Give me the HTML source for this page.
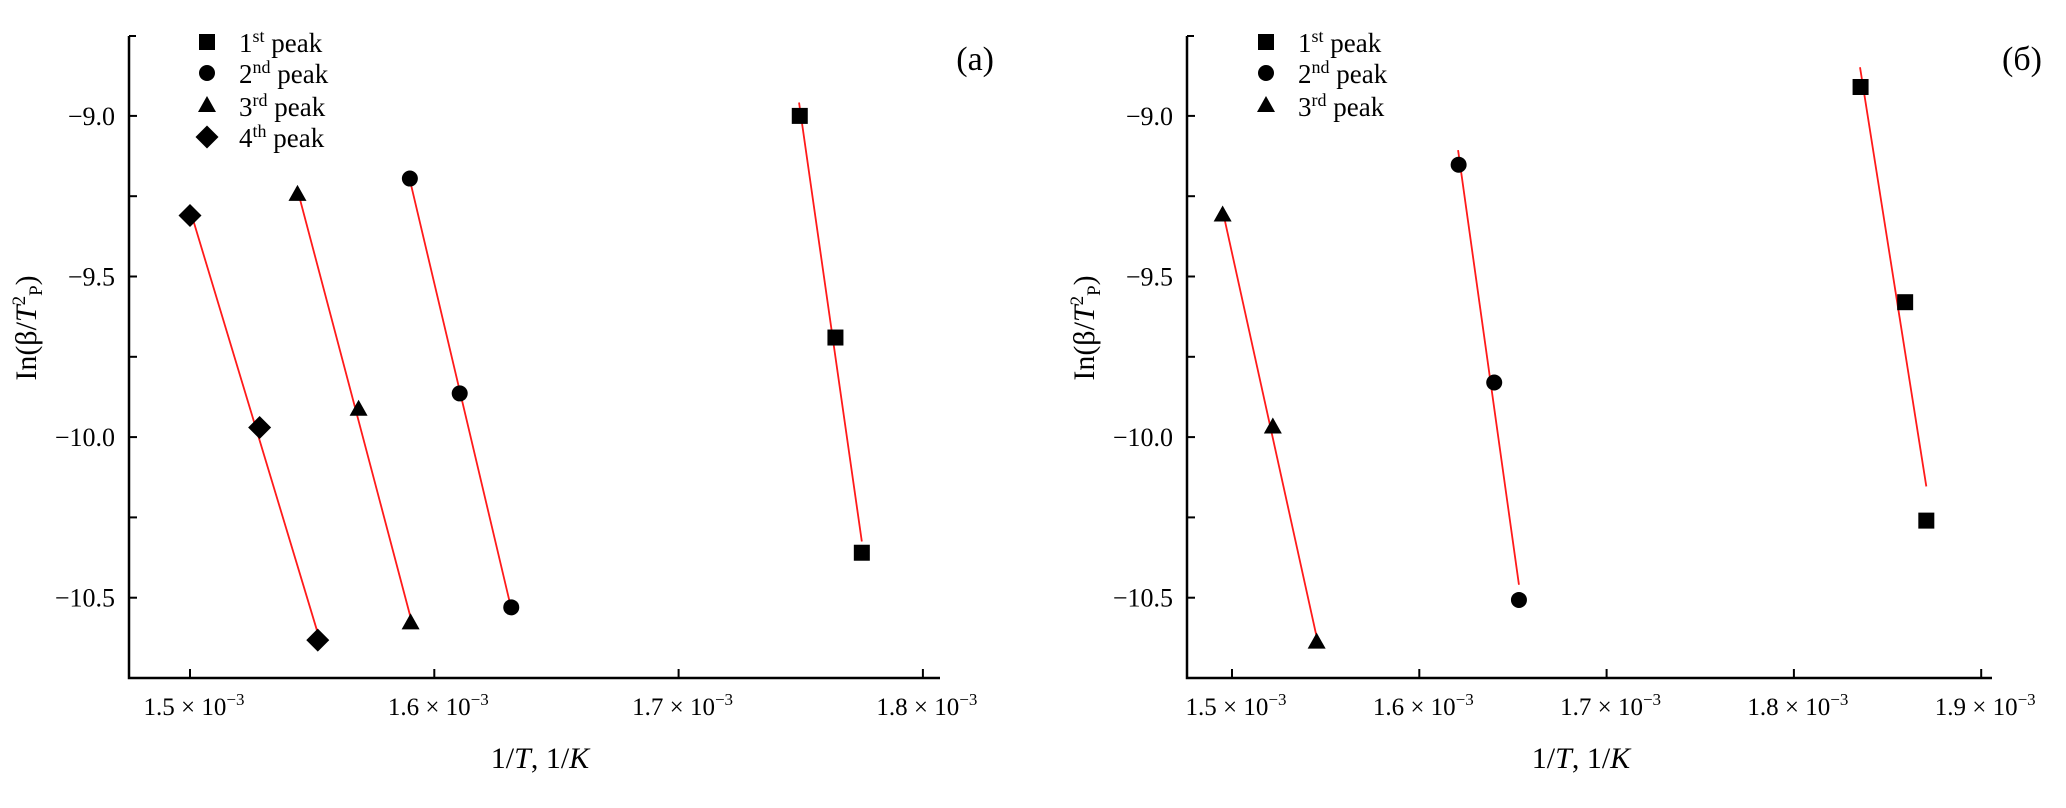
<!DOCTYPE html>
<html><head><meta charset="utf-8"><style>
html,body{margin:0;padding:0;background:#fff;}
svg{display:block;font-family:"Liberation Serif",serif;}
</style></head><body>
<svg id="c" width="2066" height="808" viewBox="0 0 2066 808" xmlns="http://www.w3.org/2000/svg"></svg>
<script>
// Panel (a) data
const aSquareX=[1.7496,1.7642,1.7750], aSquareY=[-9.00,-9.69,-10.36];
const aCircleX=[1.590,1.6104,1.6315], aCircleY=[-9.195,-9.864,-10.53];
const aTriX=[1.544,1.569,1.5903], aTriY=[-9.246,-9.915,-10.58];
const aDiamX=[1.500,1.5285,1.5523], aDiamY=[-9.31,-9.97,-10.632];
// Panel (b) data
const bSquareX=[1.8356,1.8594,1.8707], bSquareY=[-8.91,-9.58,-10.26];
const bCircleX=[1.621,1.640,1.6532], bCircleY=[-9.152,-9.83,-10.507];
const bTriX=[1.495,1.5218,1.5452], bTriY=[-9.31,-9.97,-10.64];
// ticks
const yTicks=[-9.0,-9.25,-9.5,-9.75,-10.0,-10.25,-10.5];
const yLabels=["\u22129.0","","\u22129.5","","\u221210.0","","\u221210.5"];
const aXTicks=[1.5,1.6,1.7,1.8], aXLabels=["1.5","1.6","1.7","1.8"];
const bXTicks=[1.5,1.6,1.7,1.8,1.9], bXLabels=["1.5","1.6","1.7","1.8","1.9"];
const legendA=[["square","1","st"],["circle","2","nd"],["tri","3","rd"],["diamond","4","th"]];
const legendB=[["square","1","st"],["circle","2","nd"],["tri","3","rd"]];

const NS="http://www.w3.org/2000/svg";
const svg=document.getElementById('c');
function mk(tag,attrs,parent){const e=document.createElementNS(NS,tag);for(const k in attrs)e.setAttribute(k,attrs[k]);(parent||svg).appendChild(e);return e;}

function marker(g,type,cx,cy){
  let e;
  if(type==="square") e=mk('rect',{x:cx-8,y:cy-8,width:16,height:16,fill:'#000'},g);
  else if(type==="circle") e=mk('circle',{cx:cx,cy:cy,r:8,fill:'#000'},g);
  else if(type==="tri") e=mk('polygon',{points:`${cx},${cy-10} ${cx+9},${cy+6} ${cx-9},${cy+6}`,fill:'#000'},g);
  else e=mk('polygon',{points:`${cx},${cy-11.5} ${cx+11.5},${cy} ${cx},${cy+11.5} ${cx-11.5},${cy}`,fill:'#000'},g);
  return e;
}

function panel(cfg){
  const g=mk('g',{});
  
  
  const X=v=>cfg.x0+(v-1.5)/0.1*cfg.px;
  const Y=v=>597.7-(v+10.5)/0.5*160.6;
  const ax=mk('path',{d:`M${cfg.left},36 L${cfg.left},678 L${cfg.right},678`,stroke:'#000','stroke-width':2.5,fill:'none'},g);
  
  
  mk('line',{x1:cfg.left,y1:36,x2:cfg.left+7,y2:36,stroke:'#000','stroke-width':2},g);
  yTicks.forEach((t,i)=>{
    mk('line',{x1:cfg.left,y1:Y(t),x2:cfg.left+8,y2:Y(t),stroke:'#000','stroke-width':2},g);
    if(yLabels[i]){const tx=mk('text',{x:cfg.left-14,y:Y(t)+9,'font-size':26,'text-anchor':'end'},g);tx.textContent=yLabels[i];
      
      }
  });
  cfg.xt.forEach((t,i)=>{
    mk('line',{x1:X(t),y1:678,x2:X(t),y2:669,stroke:'#000','stroke-width':2},g);
    const tx=mk('text',{x:X(t)+4,y:715,'font-size':25,'text-anchor':'middle'},g);
    tx.innerHTML=cfg.xl[i]+' \u00d7 10<tspan dy="-10" font-size="17">\u22123</tspan>';
    
    
  });
  const xt=mk('text',{x:cfg.xTitle,y:768,'font-size':30,'text-anchor':'middle'},g);
  xt.innerHTML='1/<tspan font-style="italic">T</tspan>, 1/<tspan font-style="italic">K</tspan>';
  
  
  const yt=mk('text',{x:0,y:0,'font-size':30,'text-anchor':'middle',transform:`translate(${cfg.yTitle},328) rotate(-90)`},g);
  yt.innerHTML='In(\u03b2/<tspan font-style="italic">T</tspan><tspan dy="-11" font-size="19">2</tspan><tspan dy="17" font-size="19">P</tspan><tspan dy="-6">)</tspan>';
  
  
  const pl=mk('text',{x:cfg.lbl,y:70,'font-size':34,'text-anchor':'end'},g);
  pl.textContent=cfg.label;
  
  
  cfg.series.forEach(s=>{
    const xs=s[1],ys=s[2],n=xs.length;
    const mx=xs.reduce((a,b)=>a+b)/n,my=ys.reduce((a,b)=>a+b)/n;
    let sxy=0,sxx=0;for(let i=0;i<n;i++){sxy+=(xs[i]-mx)*(ys[i]-my);sxx+=(xs[i]-mx)**2;}
    const k=sxy/sxx,b0=my-k*mx;
    const xa=Math.min(...xs)-0.0003,xb=Math.max(...xs);
    const ln=mk('line',{x1:X(xa),y1:Y(k*xa+b0),x2:X(xb),y2:Y(k*xb+b0),stroke:'#ff1a1a','stroke-width':1.8},g);
    
    
    for(let i=0;i<n;i++){const m=marker(g,s[0],X(xs[i]),Y(ys[i]));
      
      }
  });
  cfg.legend.forEach((l,i)=>{
    const yy=[42,73,106,137][i];
    const m=marker(g,l[0],cfg.legX,yy);
    
    
    const tx=mk('text',{x:cfg.legX+32,y:yy+10,'font-size':27},g);
    tx.innerHTML=l[1]+'<tspan dy="-10" font-size="18">'+l[2]+'</tspan><tspan dy="10"> peak</tspan>';
    
    
  });
}
panel({name:'panel-a',left:129,right:940,x0:190,px:244.3,xt:aXTicks,xl:aXLabels,xTitle:540,yTitle:36,lbl:994,label:'(a)',legX:207,legend:legendA,
  series:[['square',aSquareX,aSquareY],['circle',aCircleX,aCircleY],['tri',aTriX,aTriY],['diamond',aDiamX,aDiamY]]});
panel({name:'panel-b',left:1187,right:1992,x0:1232,px:187.3,xt:bXTicks,xl:bXLabels,xTitle:1581,yTitle:1094,lbl:2042,label:'(\u0431)',legX:1266,legend:legendB,
  series:[['square',bSquareX,bSquareY],['circle',bCircleX,bCircleY],['tri',bTriX,bTriY]]});
</script>
</body></html>
